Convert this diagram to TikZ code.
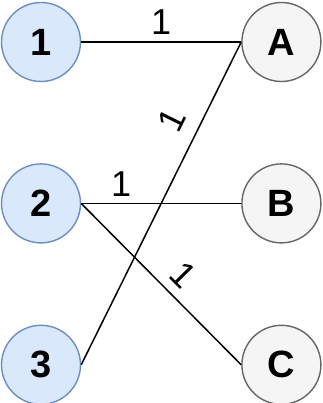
\documentclass[tikz,border=0pt]{standalone}
\usepackage{fontspec}
\setmainfont{Liberation Sans}
\usetikzlibrary{positioning}
\definecolor{leftfill}{HTML}{DAE8FC}
\definecolor{leftline}{HTML}{6C8EBF}
\definecolor{rightfill}{HTML}{F5F5F5}
\definecolor{rightline}{HTML}{666666}

\begin{document}
\begin{tikzpicture}[node distance=81pt and 160pt,
    leftnode/.style={circle, draw=leftline, fill=leftfill, line width=1.4pt,
                minimum size=79pt, inner sep=0pt, font=\fontsize{38}{44}\selectfont\bfseries},
    rightnode/.style={circle, draw=rightline, fill=rightfill, line width=1.4pt,
                minimum size=79pt, inner sep=0pt, font=\fontsize{38}{44}\selectfont\bfseries},
    wlabel/.style={inner sep=0pt, font=\fontsize{36}{42}\selectfont},
    edge/.style={line width=1.5pt}]

    \useasboundingbox (0,0) rectangle (322pt,-403pt);

    \node[leftnode] (n1) at (41pt,-42pt) {1};
    \node[leftnode, below=of n1] (n2) {2};
    \node[leftnode, below=of n2] (n3) {3};
    \node[rightnode, right=of n1] (nA) {A};
    \node[rightnode, right=of n2] (nB) {B};
    \node[rightnode, right=of n3] (nC) {C};

    \draw[edge] (n1.east) -- (nA.west) node[wlabel, pos=0.5, yshift=20pt] {1};
    \draw[edge] (n3.east) -- (nA.west) node[wlabel, pos=0.72, sloped, yshift=27pt] {1};
    \draw[edge] (n2.east) -- (nB.west) node[wlabel, pos=0.25, yshift=19pt] {1};
    \draw[edge] (n2.east) -- (nC.west) node[wlabel, pos=0.54, sloped, yshift=22pt] {1};
\end{tikzpicture}
\end{document}
